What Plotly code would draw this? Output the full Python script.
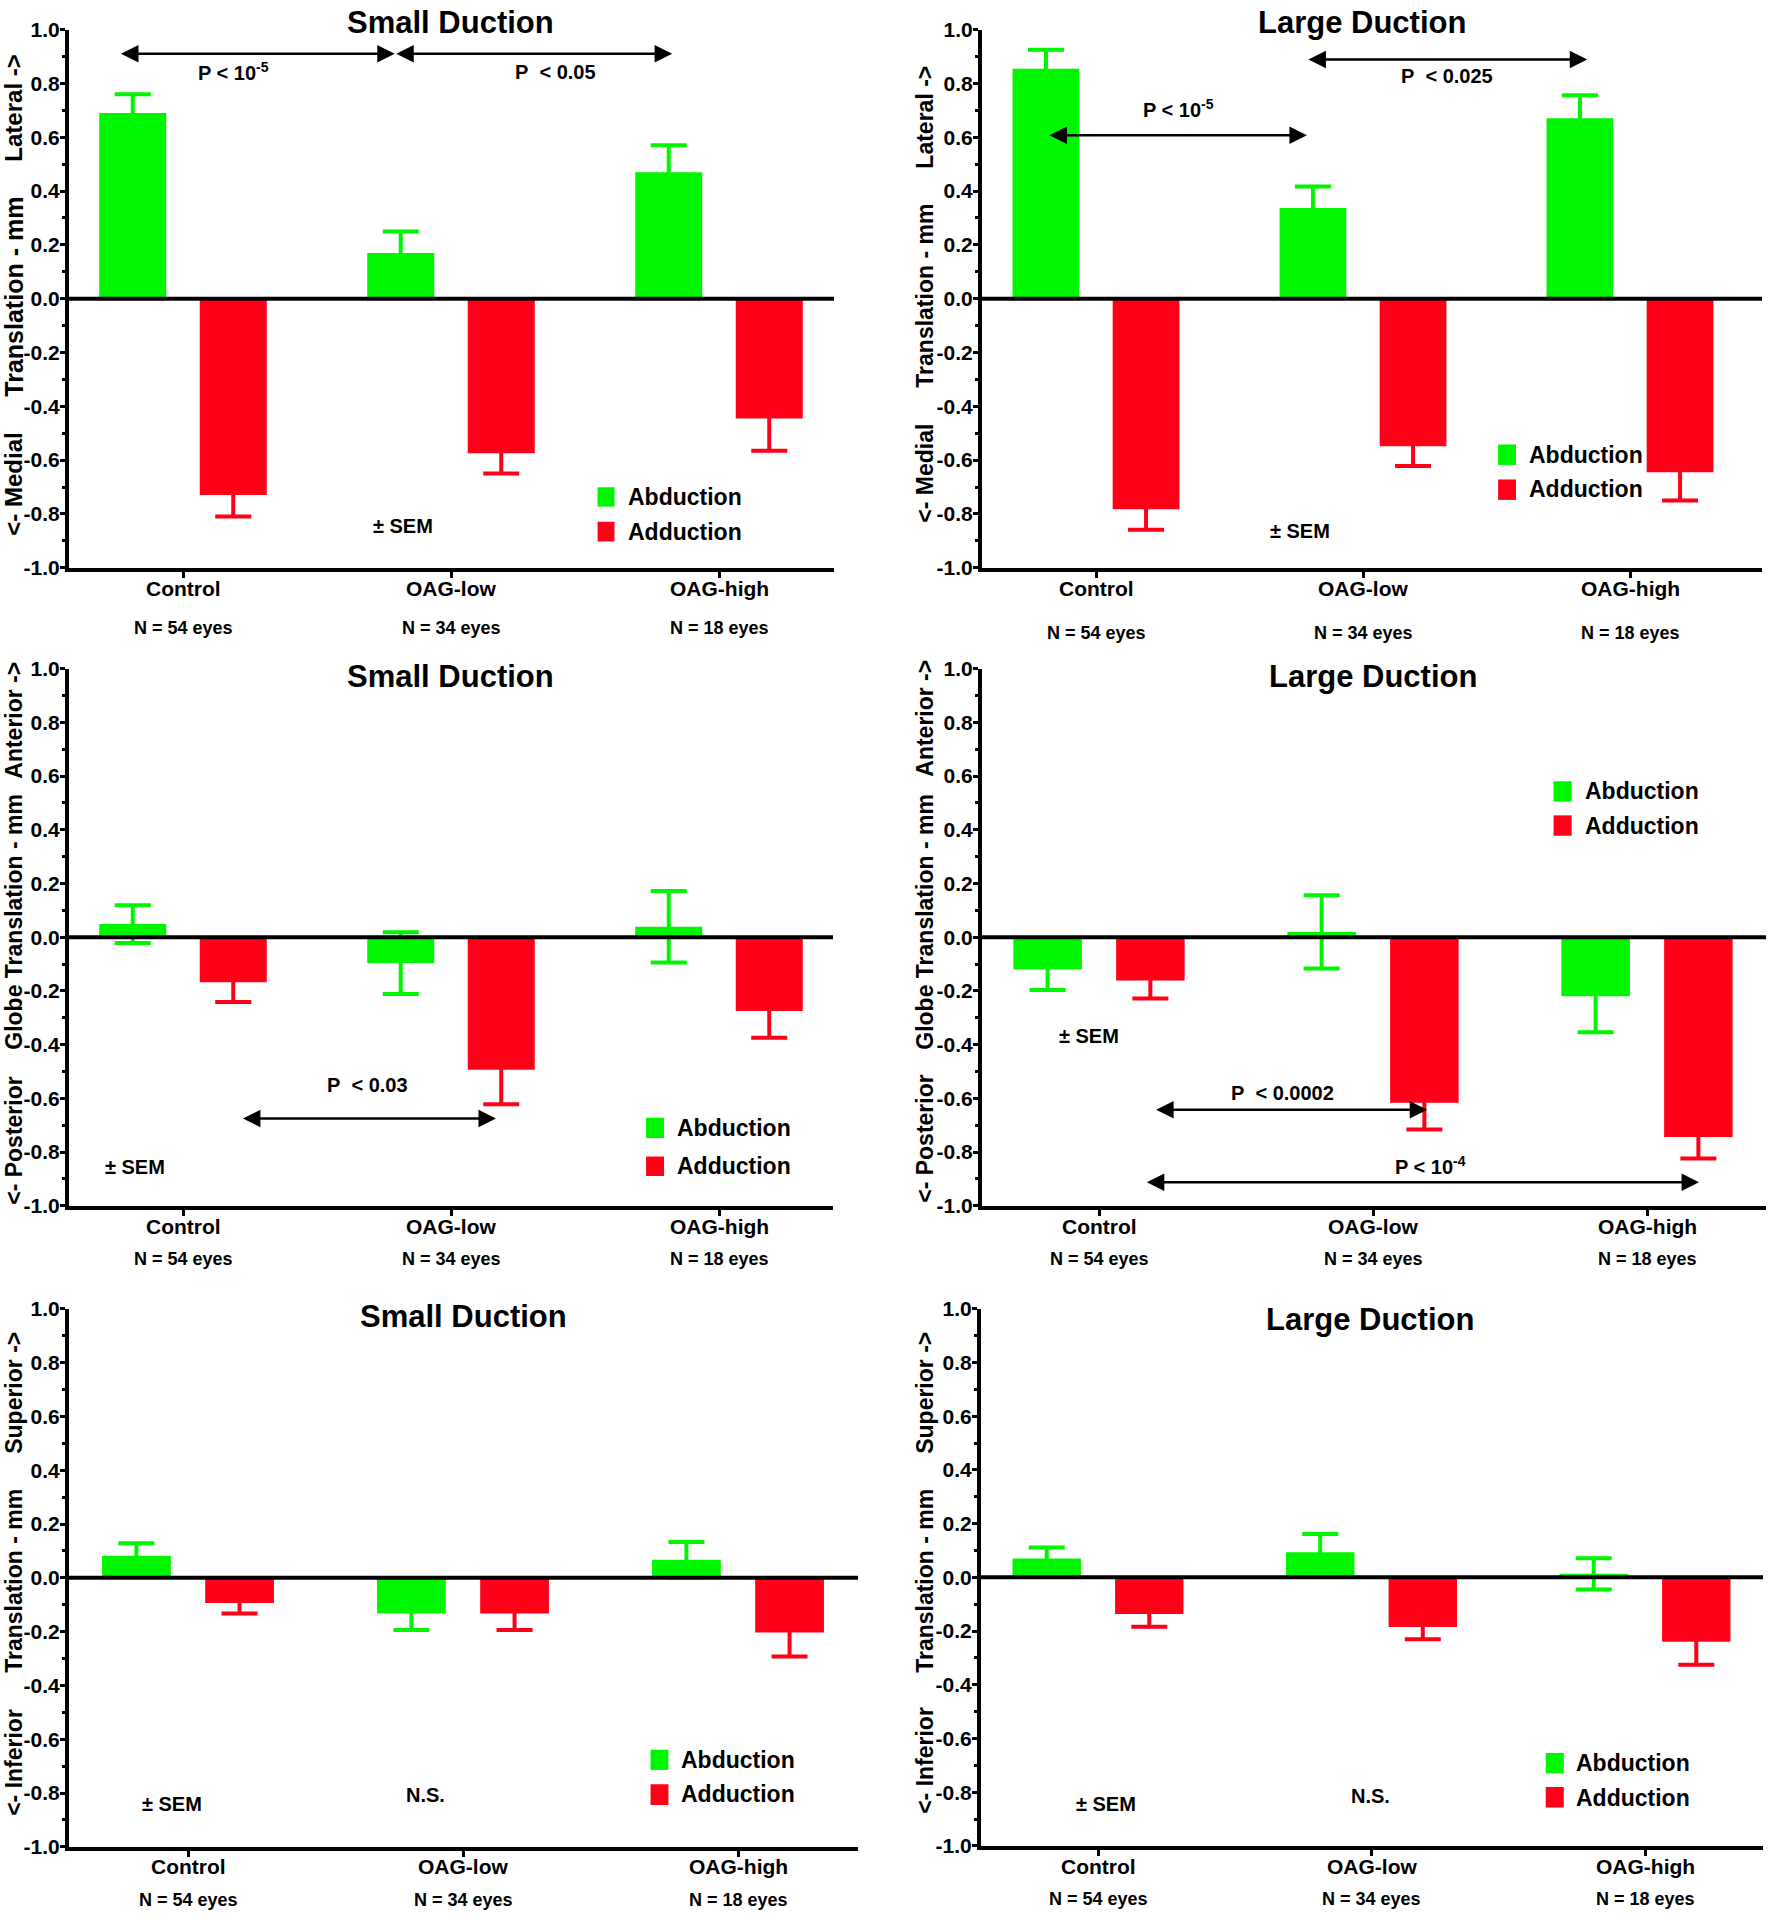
import plotly.graph_objects as go

# ---- data (mm, mean and SEM) ----
categories = ['Control', 'OAG-low', 'OAG-high']
eye_counts = ['N = 54 eyes', 'N = 34 eyes', 'N = 18 eyes']
y_ticks = [-1.0, -0.8, -0.6, -0.4, -0.2, 0.0, 0.2, 0.4, 0.6, 0.8, 1.0]

# lateral (+) / medial (-)
lat_small_abd = [0.69, 0.17, 0.47]
lat_small_abd_sem = [0.07, 0.08, 0.10]
lat_small_add = [-0.73, -0.575, -0.445]
lat_small_add_sem = [0.08, 0.075, 0.12]
lat_large_abd = [0.855, 0.337, 0.671]
lat_large_abd_sem = [0.07, 0.08, 0.085]
lat_large_add = [-0.783, -0.549, -0.645]
lat_large_add_sem = [0.076, 0.073, 0.105]

# anterior (+) / posterior (-)
ap_small_abd = [0.049, -0.096, 0.039]
ap_small_abd_sem = [0.07, 0.115, 0.133]
ap_small_add = [-0.168, -0.493, -0.275]
ap_small_add_sem = [0.073, 0.129, 0.099]
ap_large_abd = [-0.120, 0.020, -0.220]
ap_large_abd_sem = [0.076, 0.136, 0.134]
ap_large_add = [-0.161, -0.616, -0.744]
ap_large_add_sem = [0.067, 0.10, 0.08]

# superior (+) / inferior (-)
si_small_abd = [0.082, -0.133, 0.067]
si_small_abd_sem = [0.047, 0.061, 0.066]
si_small_add = [-0.094, -0.133, -0.203]
si_small_add_sem = [0.039, 0.061, 0.089]
si_large_abd = [0.070, 0.093, 0.013]
si_large_abd_sem = [0.041, 0.068, 0.058]
si_large_add = [-0.137, -0.185, -0.240]
si_large_add_sem = [0.047, 0.046, 0.086]

# ---- styling ----
W, H = 1768, 1920
GREEN = '#00F500'
RED = '#FF0019'
FONT = 'Liberation Sans, Arial, Helvetica, sans-serif'


def fx(p):
    return p / W


def fy(p):
    # the captured page comes out slightly squeezed vertically; pre-stretch to match
    return 1 - min(max(p / 0.9879 - 11.5, 0), H) / H


def bold(size):
    return dict(family=FONT, size=size, color='black', weight='bold')


# one dict per panel: data + where things sit (pixels / axis units)
panels = [
    dict(title='Small Duction', title_xy=(451, 22),
         abd=lat_small_abd, abd_sem=lat_small_abd_sem, add=lat_small_add, add_sem=lat_small_add_sem,
         xdom=(69, 834), ydom=(29, 567), cat0=183, step=268,
         ytitles=[('Lateral ->', 14, 108, 24), ('Translation - mm', 14, 296, 25), ('<- Medial', 14, 484, 24)],
         cat_y=588, n_y=627,
         arrows=[(-0.237, 0.79, 0.91), (0.79, 1.825, 0.91)],
         notes=[('P < 10<sup>-5</sup>', 0.19, 0.844), ('P  < 0.05', 1.39, 0.844), ('± SEM', 0.82, -0.845)],
         leg=dict(sx=(1.547, 1.610), g=(-0.773, -0.701), r=(-0.903, -0.829), tx=1.652, ty=(-0.737, -0.866))),
    dict(title='Large Duction', title_xy=(1362, 22),
         abd=lat_large_abd, abd_sem=lat_large_abd_sem, add=lat_large_add, add_sem=lat_large_add_sem,
         xdom=(982, 1762), ydom=(29, 567), cat0=1096, step=267,
         ytitles=[('Lateral ->', 925, 117, 23), ('Translation - mm', 925, 295, 23), ('<- Medial', 925, 473, 23)],
         cat_y=588, n_y=632,
         arrows=[(-0.18, 0.79, 0.607), (0.79, 1.84, 0.889)],
         notes=[('P < 10<sup>-5</sup>', 0.31, 0.707), ('P  < 0.025', 1.315, 0.829), ('± SEM', 0.764, -0.863)],
         leg=dict(sx=(1.506, 1.573), g=(-0.618, -0.542), r=(-0.748, -0.672), tx=1.616, ty=(-0.58, -0.709))),
    dict(title='Small Duction', title_xy=(451, 676),
         abd=ap_small_abd, abd_sem=ap_small_abd_sem, add=ap_small_add, add_sem=ap_small_add_sem,
         xdom=(69, 833), ydom=(668, 1205), cat0=183, step=268,
         ytitles=[('Anterior ->', 14, 720, 23), ('Globe Translation - mm', 14, 921, 23), ('<- Posterior', 14, 1140, 23)],
         cat_y=1226, n_y=1258,
         arrows=[(0.218, 1.168, -0.675)],
         notes=[('P  < 0.03', 0.69, -0.551), ('± SEM', -0.18, -0.854)],
         leg=dict(sx=(1.728, 1.795), g=(-0.748, -0.672), r=(-0.889, -0.816), tx=1.835, ty=(-0.71, -0.853))),
    dict(title='Large Duction', title_xy=(1373, 676),
         abd=ap_large_abd, abd_sem=ap_large_abd_sem, add=ap_large_add, add_sem=ap_large_add_sem,
         xdom=(982, 1766), ydom=(668, 1205), cat0=1099, step=274,
         ytitles=[('Anterior ->', 925, 718, 23), ('Globe Translation - mm', 925, 921, 23), ('<- Posterior', 925, 1138, 23)],
         cat_y=1226, n_y=1258,
         arrows=[(0.203, 1.198, -0.642), (0.169, 2.19, -0.912)],
         notes=[('P  < 0.0002', 0.668, -0.581), ('P < 10<sup>-4</sup>', 1.21, -0.85), ('± SEM', -0.036, -0.369)],
         leg=dict(sx=(1.659, 1.725), g=(0.505, 0.581), r=(0.378, 0.454), tx=1.766, ty=(0.543, 0.416))),
    dict(title='Small Duction', title_xy=(463, 1316),
         abd=si_small_abd, abd_sem=si_small_abd_sem, add=si_small_add, add_sem=si_small_add_sem,
         xdom=(69, 858), ydom=(1308, 1846), cat0=188, step=275,
         ytitles=[('Superior ->', 14, 1392, 23), ('Translation - mm', 14, 1580, 23), ('<- Inferior', 14, 1762, 23)],
         cat_y=1866, n_y=1899,
         arrows=[],
         notes=[('± SEM', -0.058, -0.841), ('N.S.', 0.864, -0.808)],
         leg=dict(sx=(1.682, 1.747), g=(-0.714, -0.639), r=(-0.844, -0.767), tx=1.784, ty=(-0.677, -0.805))),
    dict(title='Large Duction', title_xy=(1370, 1319),
         abd=si_large_abd, abd_sem=si_large_abd_sem, add=si_large_add, add_sem=si_large_add_sem,
         xdom=(981, 1763), ydom=(1308, 1845), cat0=1098, step=273.5,
         ytitles=[('Superior ->', 925, 1392, 23), ('Translation - mm', 925, 1580, 23), ('<- Inferior', 925, 1760, 23)],
         cat_y=1866, n_y=1898,
         arrows=[],
         notes=[('± SEM', 0.03, -0.843), ('N.S.', 0.998, -0.813)],
         leg=dict(sx=(1.637, 1.703), g=(-0.730, -0.654), r=(-0.857, -0.781), tx=1.74, ty=(-0.692, -0.82))),
]

fig = go.Figure()
annotations = []
shapes = []
layout_axes = {}
tick_text = [f'{v:.1f}' for v in y_ticks]

for i, p in enumerate(panels, start=1):
    xa = 'x' if i == 1 else f'x{i}'
    ya = 'y' if i == 1 else f'y{i}'
    xkey = 'xaxis' if i == 1 else f'xaxis{i}'
    ykey = 'yaxis' if i == 1 else f'yaxis{i}'

    for vals, sem, col, name in [(p['abd'], p['abd_sem'], GREEN, 'Abduction'),
                                 (p['add'], p['add_sem'], RED, 'Adduction')]:
        fig.add_trace(go.Bar(
            x=[0, 1, 2], y=vals, name=name, marker=dict(color=col, line=dict(width=0)),
            error_y=dict(type='data', array=sem, color=col, thickness=4, width=18),
            xaxis=xa, yaxis=ya, showlegend=False,
        ))

    x0, x1 = p['xdom']
    xr = [(x0 - p['cat0']) / p['step'], (x1 - p['cat0']) / p['step']]
    layout_axes[xkey] = dict(
        domain=[fx(x0), fx(x1)], range=xr, anchor=ya, showgrid=False, zeroline=False,
        showline=True, linewidth=4, linecolor='black',
        tickvals=[0, 1, 2], showticklabels=False, ticks='outside', ticklen=6, tickwidth=3,
        tickcolor='black', fixedrange=True,
    )
    layout_axes[ykey] = dict(
        domain=[fy(p['ydom'][1]), fy(p['ydom'][0])], range=[-1, 1], anchor=xa,
        showgrid=False, zeroline=False, showline=True, linewidth=4, linecolor='black',
        tickvals=y_ticks, ticktext=tick_text, ticks='outside', ticklen=5, tickwidth=3,
        tickcolor='black', tickfont=bold(21), ticklabelstandoff=-4,
        minor=dict(dtick=0.1, ticks='outside', ticklen=3, tickwidth=3, tickcolor='black'),
        fixedrange=True,
    )

    # heavy zero line
    shapes.append(dict(type='line', xref=f'{xa} domain', yref=ya, x0=0, x1=1, y0=0, y1=0,
                       line=dict(color='black', width=4), layer='above'))

    # title
    annotations.append(dict(text=p['title'], xref='paper', yref='paper',
                            x=fx(p['title_xy'][0]), y=fy(p['title_xy'][1]),
                            xanchor='center', yanchor='middle',
                            showarrow=False, font=bold(31)))

    # rotated y titles
    for txt, tx, ty, sz in p['ytitles']:
        annotations.append(dict(text=txt, xref='paper', yref='paper', x=fx(tx), y=fy(ty),
                                xanchor='center', yanchor='middle', textangle=-90,
                                showarrow=False, font=bold(sz)))

    # category names and counts
    for k, (cat, n) in enumerate(zip(categories, eye_counts)):
        annotations.append(dict(text=cat, xref=xa, yref='paper', x=k, y=fy(p['cat_y']),
                                xanchor='center', yanchor='middle', showarrow=False, font=bold(21)))
        annotations.append(dict(text=n, xref=xa, yref='paper', x=k, y=fy(p['n_y']),
                                xanchor='center', yanchor='middle', showarrow=False, font=bold(18)))

    # significance arrows
    for a0, a1, ay in p['arrows']:
        annotations.append(dict(text='', xref=xa, yref=ya, axref=xa, ayref=ya,
                                x=a1, y=ay, ax=a0, ay=ay, showarrow=True,
                                arrowside='end+start', arrowhead=2, arrowsize=1.4,
                                arrowwidth=2.5, arrowcolor='black', standoff=0, startstandoff=0))

    for txt, tx, ty in p['notes']:
        annotations.append(dict(text=txt.replace('  ', '\u00a0\u00a0'), xref=xa, yref=ya, x=tx, y=ty,
                                xanchor='center', yanchor='middle', showarrow=False, font=bold(20)))

    # legend boxes
    lg = p['leg']
    for (ylo, yhi), col, name, tyy in [(lg['g'], GREEN, 'Abduction', lg['ty'][0]),
                                       (lg['r'], RED, 'Adduction', lg['ty'][1])]:
        shapes.append(dict(type='rect', xref=xa, yref=ya, x0=lg['sx'][0], x1=lg['sx'][1],
                           y0=ylo, y1=yhi, fillcolor=col, line=dict(width=0)))
        annotations.append(dict(text=name, xref=xa, yref=ya, x=lg['tx'], y=tyy,
                                xanchor='left', yanchor='middle', showarrow=False, font=bold(23)))

fig.update_layout(
    width=W, height=H, margin=dict(l=0, r=0, t=0, b=0),
    paper_bgcolor='white', plot_bgcolor='white',
    barmode='group', bargap=0.25, bargroupgap=1 / 3,
    annotations=annotations, shapes=shapes,
    font=dict(family=FONT, color='black'),
    **layout_axes,
)

# pin the figure to the page corner so the page is exactly the figure size
pin = ("document.body.style.margin='0';"
       "document.body.style.overflow='hidden';"
       "document.documentElement.style.overflow='hidden';"
       "var g=document.querySelector('.plotly-graph-div');"
       "g.style.position='fixed';g.style.left='0';g.style.top='0';")

fig.write_html("out.html", config={'displayModeBar': False}, post_script=pin)
